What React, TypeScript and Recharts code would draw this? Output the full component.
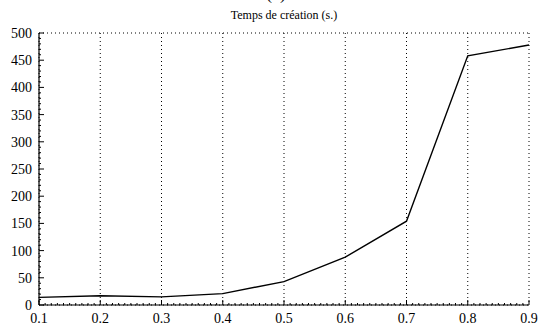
import { CartesianGrid, Line, LineChart, XAxis, YAxis } from "recharts";

const ratios = [0.1, 0.2, 0.3, 0.4, 0.5, 0.6, 0.7, 0.8, 0.9];
const creationTime = [14, 17, 15, 21, 43, 88, 154, 458, 478];

const xTicks = [0.1, 0.2, 0.3, 0.4, 0.5, 0.6, 0.7, 0.8, 0.9];
const yTicks = [0, 50, 100, 150, 200, 250, 300, 350, 400, 450, 500];
// minor ticks: every 0.01 on x, every 10 on y
const xMinor = Array.from({ length: 81 }, (_, i) => Math.round((0.1 + i * 0.01) * 100) / 100);
const yMinor = Array.from({ length: 51 }, (_, i) => i * 10);

const data = ratios.map((r, i) => ({ r, t: creationTime[i] }));

const FONT = '"Liberation Serif", "Times New Roman", Times, serif';

const isMajorX = (v: number) => xTicks.some((t) => Math.abs(t - v) < 1e-6);
const isMajorY = (v: number) => yTicks.includes(v);

function BottomTick(props: any) {
  const { x, y, payload } = props;
  const major = isMajorX(payload.value);
  return (
    <g>
      <line x1={x} y1={y} x2={x} y2={y - (major ? 5 : 2)} stroke="#000" strokeWidth={1} />
      {major && (
        <text x={x} y={y + 18} textAnchor="middle" fill="#000" style={{ fontFamily: FONT, fontSize: 14 }}>
          {payload.value.toFixed(1)}
        </text>
      )}
    </g>
  );
}

function LeftTick(props: any) {
  const { x, y, payload } = props;
  const major = isMajorY(payload.value);
  return (
    <g>
      <line x1={x} y1={y} x2={x + (major ? 5 : 2)} y2={y} stroke="#000" strokeWidth={1} />
      {major && (
        <text x={x - 7} y={y + 5} textAnchor="end" fill="#000" style={{ fontFamily: FONT, fontSize: 14 }}>
          {payload.value}
        </text>
      )}
    </g>
  );
}

const NoLabel = () => <g />;

export default function App() {
  return (
    <div style={{ position: "absolute", left: 0, top: 0, width: 540, height: 326, background: "#fff" }}>
      <svg width={540} height={326} style={{ position: "absolute", left: 0, top: 0 }}>
        <text x={276} y={-1} textAnchor="middle" fill="#000" style={{ fontFamily: FONT, fontSize: 18 }}>
          (a)
        </text>
        <text x={284} y={19} textAnchor="middle" fill="#000" style={{ fontFamily: FONT, fontSize: 12 }}>
          Temps de création (s.)
        </text>
      </svg>
      <div style={{ position: "absolute", left: 0, top: 0 }}>
        <LineChart width={540} height={326} data={data} margin={{ top: 33, right: 11, bottom: 0, left: 0 }}>
          <CartesianGrid xAxisId="t" yAxisId="r" stroke="#000" strokeDasharray="1 3" strokeWidth={1} />
          <XAxis
            xAxisId="b"
            dataKey="r"
            type="number"
            domain={[0.1, 0.9]}
            ticks={xMinor}
            interval={0}
            height={21}
            tickLine={false}
            tickSize={0}
            tickMargin={0}
            axisLine={{ stroke: "#000", strokeWidth: 1.2 }}
            tick={<BottomTick />}
          />
          <XAxis
            xAxisId="t"
            dataKey="r"
            orientation="top"
            type="number"
            domain={[0.1, 0.9]}
            ticks={xTicks}
            interval={0}
            height={0}
            axisLine={false}
            tickLine={{ stroke: "#000" }}
            tickSize={-4}
            tick={NoLabel}
          />
          <YAxis
            yAxisId="l"
            type="number"
            domain={[0, 500]}
            ticks={yMinor}
            interval={0}
            width={39}
            tickLine={false}
            tickSize={0}
            tickMargin={0}
            axisLine={{ stroke: "#000", strokeWidth: 1.2 }}
            tick={<LeftTick />}
          />
          <YAxis
            yAxisId="r"
            orientation="right"
            type="number"
            domain={[0, 500]}
            ticks={yTicks}
            interval={0}
            width={0}
            axisLine={false}
            tickLine={{ stroke: "#000" }}
            tickSize={-4}
            tick={NoLabel}
          />
          <Line
            xAxisId="b"
            yAxisId="l"
            dataKey="t"
            type="linear"
            stroke="#000"
            strokeWidth={1.4}
            dot={false}
            isAnimationActive={false}
          />
        </LineChart>
      </div>
    </div>
  );
}
